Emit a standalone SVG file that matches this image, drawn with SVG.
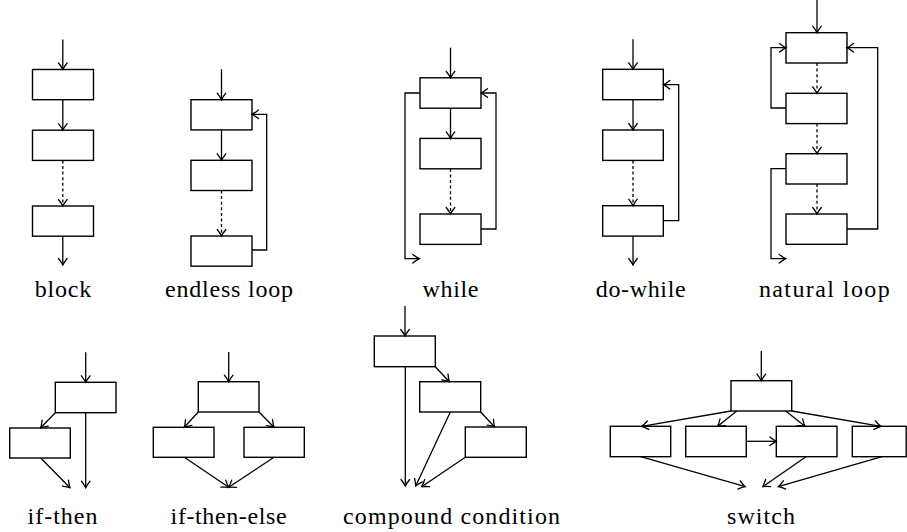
<svg xmlns="http://www.w3.org/2000/svg" width="907" height="532" viewBox="0 0 907 532">
<style>
.box{fill:#fff;stroke:#000;stroke-width:1.4}
.c{fill:none;stroke:#000;stroke-width:1.3;marker-end:url(#arr)}
.d{stroke-dasharray:3 2.6}
.lbl{font-family:"Liberation Serif","DejaVu Serif",serif;font-size:24px;fill:#000;text-anchor:middle}
</style>
<defs>
<marker id="arr" markerUnits="userSpaceOnUse" viewBox="-8 -6 10 12" markerWidth="10" markerHeight="12" refX="0" refY="0" orient="auto" overflow="visible">
<path d="M-6.5,-4.3 Q-2.5,-1.2 0,0 Q-2.5,1.2 -6.5,4.3" fill="none" stroke="#000" stroke-width="1.3" stroke-linecap="round"/>
</marker>
</defs>
<rect width="907" height="532" fill="#fff"/>

<g id="block">
<rect class="box" x="32.5" y="69.5" width="61" height="30.2"/>
<rect class="box" x="32.5" y="130.2" width="61" height="30.2"/>
<rect class="box" x="32.5" y="206" width="61" height="30.2"/>
<text class="lbl" x="63" y="297" textLength="56.5" lengthAdjust="spacing">block</text>
</g>
<g id="endless-loop">
<rect class="box" x="191" y="99.7" width="61" height="30.2"/>
<rect class="box" x="191" y="160.3" width="61" height="30.2"/>
<rect class="box" x="191" y="236" width="61" height="30.2"/>
<text class="lbl" x="229" y="297" textLength="128" lengthAdjust="spacing">endless loop</text>
</g>
<g id="while">
<rect class="box" x="420" y="77.8" width="61" height="30.4"/>
<rect class="box" x="420" y="138.4" width="61" height="30.4"/>
<rect class="box" x="420" y="214" width="61" height="30.4"/>
<text class="lbl" x="450.5" y="297" textLength="55.8" lengthAdjust="spacing">while</text>
</g>
<g id="do-while">
<rect class="box" x="602.7" y="69.3" width="60.6" height="30.4"/>
<rect class="box" x="602.7" y="130" width="60.6" height="30.4"/>
<rect class="box" x="602.7" y="205.7" width="60.6" height="30.4"/>
<text class="lbl" x="640.7" y="297" textLength="89.8" lengthAdjust="spacing">do-while</text>
</g>
<g id="natural-loop">
<rect class="box" x="786" y="32.7" width="61" height="30.3"/>
<rect class="box" x="786" y="93.3" width="61" height="30.3"/>
<rect class="box" x="786" y="153.7" width="61" height="30.3"/>
<rect class="box" x="786" y="214" width="61" height="30.3"/>
<text class="lbl" x="824.3" y="297" textLength="130.8" lengthAdjust="spacing">natural loop</text>
</g>
<g id="if-then">
<rect class="box" x="55.3" y="382.3" width="60.7" height="30.4"/>
<rect class="box" x="9.7" y="428" width="60.6" height="30"/>
<text class="lbl" x="62.5" y="524" textLength="70" lengthAdjust="spacing">if-then</text>
</g>
<g id="if-then-else">
<rect class="box" x="198.3" y="381.7" width="60.7" height="30.3"/>
<rect class="box" x="153.3" y="427.3" width="60.7" height="30"/>
<rect class="box" x="244" y="427.3" width="60.3" height="30"/>
<text class="lbl" x="228.6" y="524" textLength="116" lengthAdjust="spacing">if-then-else</text>
</g>
<g id="compound-condition">
<rect class="box" x="374.3" y="336" width="61" height="30.7"/>
<rect class="box" x="419.7" y="381.7" width="61" height="30.3"/>
<rect class="box" x="465.3" y="427" width="61" height="30.3"/>
<text class="lbl" x="451.5" y="524" textLength="217" lengthAdjust="spacing">compound condition</text>
</g>
<g id="switch">
<rect class="box" x="731" y="380.7" width="60.7" height="30.3"/>
<rect class="box" x="610.3" y="426.3" width="60.4" height="30.4"/>
<rect class="box" x="685.7" y="426.3" width="60.6" height="30.4"/>
<rect class="box" x="776.3" y="426.3" width="60.7" height="30.4"/>
<rect class="box" x="852.3" y="426.3" width="53.9" height="30.4"/>
<text class="lbl" x="761" y="524" textLength="68" lengthAdjust="spacing">switch</text>
</g>

<g id="connectors">
<path class="c" d="M62.8,39.5 V69.5"/>
<path class="c" d="M62.8,99.7 V130.2"/>
<path class="c d" d="M62.8,160.4 V206"/>
<path class="c" d="M62.8,236.2 V265"/>
<path class="c" d="M221.5,69.3 V99.7"/>
<path class="c" d="M221.5,129.9 V160.3"/>
<path class="c d" d="M221.5,190.5 V236"/>
<path class="c" d="M252,250 H266.7 V114.3 H252"/>
<path class="c" d="M450.5,47.7 V77.8"/>
<path class="c" d="M450.5,108.2 V138.4"/>
<path class="c d" d="M450.5,168.8 V214"/>
<path class="c" d="M420,93 H405 V258.7 H419.3"/>
<path class="c" d="M481,229 H496 V93 H481"/>
<path class="c" d="M633,39.3 V69.3"/>
<path class="c" d="M633,99.7 V130"/>
<path class="c d" d="M633,160.4 V205.7"/>
<path class="c" d="M633,236.1 V265"/>
<path class="c" d="M663.3,220.7 H678.7 V84.7 H663.3"/>
<path class="c" d="M817,0 V32.7"/>
<path class="c d" d="M817,63 V93.3"/>
<path class="c d" d="M817,123.6 V153.7"/>
<path class="c d" d="M817,184 V214"/>
<path class="c" d="M786,108 H771 V47.7 H786"/>
<path class="c" d="M847,229 H877.7 V47.7 H847"/>
<path class="c" d="M786,168.7 H771 V258.7 H785.7"/>
<path class="c" d="M85.7,352.3 V382.3"/>
<path class="c" d="M55.3,412.7 L40.7,427.8"/>
<path class="c" d="M40.7,458 L70,487.7"/>
<path class="c" d="M85.7,412.7 V487.7"/>
<path class="c" d="M228.7,352 V381.7"/>
<path class="c" d="M198.3,412 L184.3,427.3"/>
<path class="c" d="M259,412 L274,427.3"/>
<path class="c" d="M184.3,457.3 L228.7,487.3"/>
<path class="c" d="M274,457.3 L228.7,487.3"/>
<path class="c" d="M405,306 V336"/>
<path class="c" d="M435.3,366.7 L449.3,381.7"/>
<path class="c" d="M480.7,412 L494.7,427"/>
<path class="c" d="M405.3,366.7 V486"/>
<path class="c" d="M450.3,412 L415.7,486"/>
<path class="c" d="M465.3,457.3 L421.7,486.7"/>
<path class="c" d="M761.3,351 V380.7"/>
<path class="c" d="M731,411 L641.7,426.3"/>
<path class="c" d="M736.7,411 L717.7,426.3"/>
<path class="c" d="M785.7,411 L805,426.3"/>
<path class="c" d="M791.7,411 L881,426.3"/>
<path class="c" d="M746.3,441.3 H776.3"/>
<path class="c" d="M640.7,456.7 L745.3,486.7"/>
<path class="c" d="M806,456.7 L762.7,486.7"/>
<path class="c" d="M882,456.7 L778.3,486.7"/>
</g>
</svg>
